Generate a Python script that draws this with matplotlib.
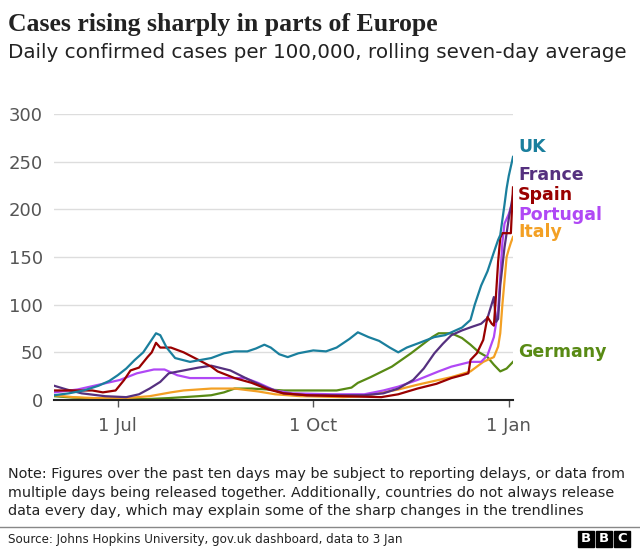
import numpy as np
import pandas as pd
import matplotlib.pyplot as plt
import matplotlib.dates as mdates
from matplotlib.patches import Rectangle

# Datos (casos diarios por 100.000, media de 7 dias)
uk_dates = ["2021-06-01", "2021-06-08", "2021-06-15", "2021-06-22", "2021-06-27", "2021-07-01",
            "2021-07-05", "2021-07-09", "2021-07-13", "2021-07-16", "2021-07-19", "2021-07-21",
            "2021-07-24", "2021-07-28", "2021-08-04", "2021-08-09", "2021-08-14", "2021-08-20",
            "2021-08-25", "2021-08-31", "2021-09-04", "2021-09-08", "2021-09-11", "2021-09-15",
            "2021-09-19", "2021-09-24", "2021-10-01", "2021-10-07", "2021-10-12", "2021-10-18",
            "2021-10-22", "2021-10-27", "2021-11-01", "2021-11-06", "2021-11-10", "2021-11-14",
            "2021-11-20", "2021-11-27", "2021-12-02", "2021-12-06", "2021-12-10", "2021-12-14",
            "2021-12-16", "2021-12-19", "2021-12-22", "2021-12-25", "2021-12-27", "2021-12-28",
            "2021-12-30", "2021-12-31", "2022-01-01", "2022-01-02", "2022-01-03"]
uk_vals = [5, 7, 10, 15, 20, 26, 33, 42, 50, 60, 70, 68, 55, 44, 40, 42, 44, 49, 51, 51, 54, 58,
           55, 48, 45, 49, 52, 51, 55, 64, 71, 66, 62, 55, 50, 55, 60, 66, 68, 72, 76, 84, 100,
           120, 135, 155, 168, 173, 205, 222, 235, 245, 255]

france_dates = ["2021-06-01", "2021-06-07", "2021-06-14", "2021-06-25", "2021-07-05", "2021-07-11",
                "2021-07-16", "2021-07-21", "2021-07-25", "2021-08-01", "2021-08-08", "2021-08-14",
                "2021-08-23", "2021-09-01", "2021-09-09", "2021-09-17", "2021-09-28", "2021-10-15",
                "2021-10-25", "2021-11-03", "2021-11-10", "2021-11-17", "2021-11-22", "2021-11-27",
                "2021-12-01", "2021-12-05", "2021-12-10", "2021-12-15", "2021-12-19", "2021-12-22",
                "2021-12-25", "2021-12-26", "2021-12-27", "2021-12-28", "2021-12-30", "2022-01-01",
                "2022-01-03"]
france_vals = [15, 11, 7, 4, 3, 6, 12, 19, 28, 31, 34, 36, 31, 21, 13, 7, 5, 5, 5, 7, 12, 21, 33,
               49, 59, 68, 73, 77, 80, 86, 108, 82, 85, 120, 160, 190, 215]

spain_dates = ["2021-06-01", "2021-06-10", "2021-06-19", "2021-06-24", "2021-06-30", "2021-07-04",
               "2021-07-07", "2021-07-11", "2021-07-15", "2021-07-17", "2021-07-19", "2021-07-21",
               "2021-07-26", "2021-08-01", "2021-08-08", "2021-08-14", "2021-08-17", "2021-08-25",
               "2021-09-02", "2021-09-10", "2021-09-17", "2021-09-28", "2021-10-15", "2021-11-02",
               "2021-11-10", "2021-11-19", "2021-11-28", "2021-12-05", "2021-12-10", "2021-12-13",
               "2021-12-14", "2021-12-17", "2021-12-20", "2021-12-22", "2021-12-24", "2021-12-25",
               "2021-12-26", "2021-12-27", "2021-12-28", "2021-12-29", "2021-12-30", "2021-12-31",
               "2022-01-01", "2022-01-02", "2022-01-03"]
spain_vals = [10, 10, 10, 8, 10, 21, 31, 34, 45, 50, 60, 55, 55, 50, 42, 35, 30, 23, 18, 11, 7, 5,
              4, 3, 6, 12, 17, 23, 26, 28, 42, 49, 63, 87, 80, 78, 110, 145, 170, 175, 175, 175,
              175, 175, 223]

portugal_dates = ["2021-06-01", "2021-06-12", "2021-06-22", "2021-07-02", "2021-07-10", "2021-07-18",
                  "2021-07-23", "2021-07-29", "2021-08-04", "2021-08-15", "2021-08-30", "2021-09-05",
                  "2021-09-13", "2021-09-21", "2021-10-10", "2021-10-25", "2021-11-03", "2021-11-10",
                  "2021-11-19", "2021-11-29", "2021-12-05", "2021-12-14", "2021-12-19", "2021-12-22",
                  "2021-12-25", "2021-12-27", "2021-12-28", "2021-12-29", "2021-12-30", "2022-01-01",
                  "2022-01-02"]
portugal_vals = [8, 11, 16, 21, 28, 32, 32, 26, 23, 23, 23, 18, 10, 7, 6, 6, 10, 14, 21, 30, 35, 40,
                 40, 47, 66, 94, 130, 165, 185, 195, 202]

italy_dates = ["2021-06-01", "2021-06-10", "2021-06-20", "2021-07-05", "2021-07-16", "2021-07-26",
               "2021-08-01", "2021-08-14", "2021-08-25", "2021-09-05", "2021-09-13", "2021-09-25",
               "2021-10-15", "2021-10-25", "2021-11-03", "2021-11-10", "2021-11-19", "2021-11-29",
               "2021-12-05", "2021-12-14", "2021-12-20", "2021-12-25", "2021-12-27", "2021-12-28",
               "2021-12-29", "2021-12-30", "2021-12-31", "2022-01-01", "2022-01-02", "2022-01-03"]
italy_vals = [5, 3, 2, 2, 4, 8, 10, 12, 12, 9, 6, 4, 3, 4, 8, 11, 16, 21, 24, 30, 40, 45, 56, 70,
              100, 125, 150, 158, 165, 171]

germany_dates = ["2021-06-01", "2021-06-10", "2021-06-20", "2021-07-01", "2021-07-15", "2021-07-25",
                 "2021-08-01", "2021-08-08", "2021-08-14", "2021-08-20", "2021-08-25", "2021-09-02",
                 "2021-09-10", "2021-09-17", "2021-09-26", "2021-10-12", "2021-10-19", "2021-10-22",
                 "2021-10-28", "2021-11-07", "2021-11-16", "2021-11-26", "2021-11-29", "2021-12-05",
                 "2021-12-10", "2021-12-14", "2021-12-18", "2021-12-22", "2021-12-25", "2021-12-28",
                 "2021-12-31", "2022-01-03"]
germany_vals = [4, 2.5, 1.5, 1, 1, 2, 3, 4, 5, 8, 12, 12, 11, 10, 10, 10, 13, 18, 24, 35, 49, 66,
                70, 70, 65, 58, 50, 45, 37, 30, 33, 40]

series = [
    ("Germany", germany_dates, germany_vals, "#588a14", 352),
    ("Italy", italy_dates, italy_vals, "#f3a024", 232),
    ("Portugal", portugal_dates, portugal_vals, "#b048f5", 215),
    ("France", france_dates, france_vals, "#55307f", 175),
    ("Spain", spain_dates, spain_vals, "#990000", 195),
    ("UK", uk_dates, uk_vals, "#1a7f9d", 147),
]

fig = plt.figure(figsize=(6.4, 5.49), dpi=100)
W, H = 640, 549
ax = fig.add_axes([54 / W, 1 - 400 / H, 459 / W, 286 / H])

for name, d, v, col, ly in series:
    ax.plot(pd.to_datetime(d), v, color=col, lw=1.6, solid_joinstyle="round")

ax.set_ylim(0, 300)
ax.set_xlim(pd.Timestamp("2021-06-01"), pd.Timestamp("2022-01-03"))
ax.set_yticks([0, 50, 100, 150, 200, 250, 300])
ax.yaxis.grid(True, color="#dddddd", lw=1)
ax.set_axisbelow(True)
for s in ["top", "right", "left"]:
    ax.spines[s].set_visible(False)
ax.spines["bottom"].set_color("#222222")
ax.spines["bottom"].set_linewidth(1.5)
ax.tick_params(axis="y", length=0, pad=8, labelsize=13, labelcolor="#555555")
ax.set_xticks(pd.to_datetime(["2021-07-01", "2021-10-01", "2022-01-01"]))
ax.xaxis.set_major_formatter(mdates.DateFormatter("1 %b"))
ax.tick_params(axis="x", length=5, width=1, color="#555555", pad=7, labelsize=13,
               labelcolor="#555555")

# etiquetas de los paises
for name, d, v, col, ly in series:
    fig.text(518 / W, 1 - ly / H, name, color=col, fontsize=12.5, fontweight="bold",
             va="center", ha="left")

fig.text(8 / W, 1 - 24 / H, "Cases rising sharply in parts of Europe", fontsize=18.5,
         fontweight="bold", family="Liberation Serif", color="#222222", va="center")
fig.text(8 / W, 1 - 52 / H, "Daily confirmed cases per 100,000, rolling seven-day average",
         fontsize=14.3, color="#222222", va="center")

note = ("Note: Figures over the past ten days may be subject to reporting delays, or data from\n"
        "multiple days being released together. Additionally, countries do not always release\n"
        "data every day, which may explain some of the sharp changes in the trendlines")
fig.text(8 / W, 1 - 467 / H, note, fontsize=10.4, color="#222222", va="top", linespacing=1.42)

fig.add_artist(plt.Line2D([0, 1], [1 - 527 / H, 1 - 527 / H], color="#888888", lw=1))
fig.text(8 / W, 1 - 539 / H, "Source: Johns Hopkins University, gov.uk dashboard, data to 3 Jan",
         fontsize=8.6, color="#222222", va="center")

# logo BBC
for i, letter in enumerate("BBC"):
    x0 = 578 + i * 18
    fig.add_artist(Rectangle((x0 / W, 1 - 547 / H), 16 / W, 16 / H, color="black"))
    fig.text((x0 + 8) / W, 1 - 539 / H, letter, color="white", fontsize=9.5,
             fontweight="bold", ha="center", va="center")

fig.savefig("out.png", dpi=100)
